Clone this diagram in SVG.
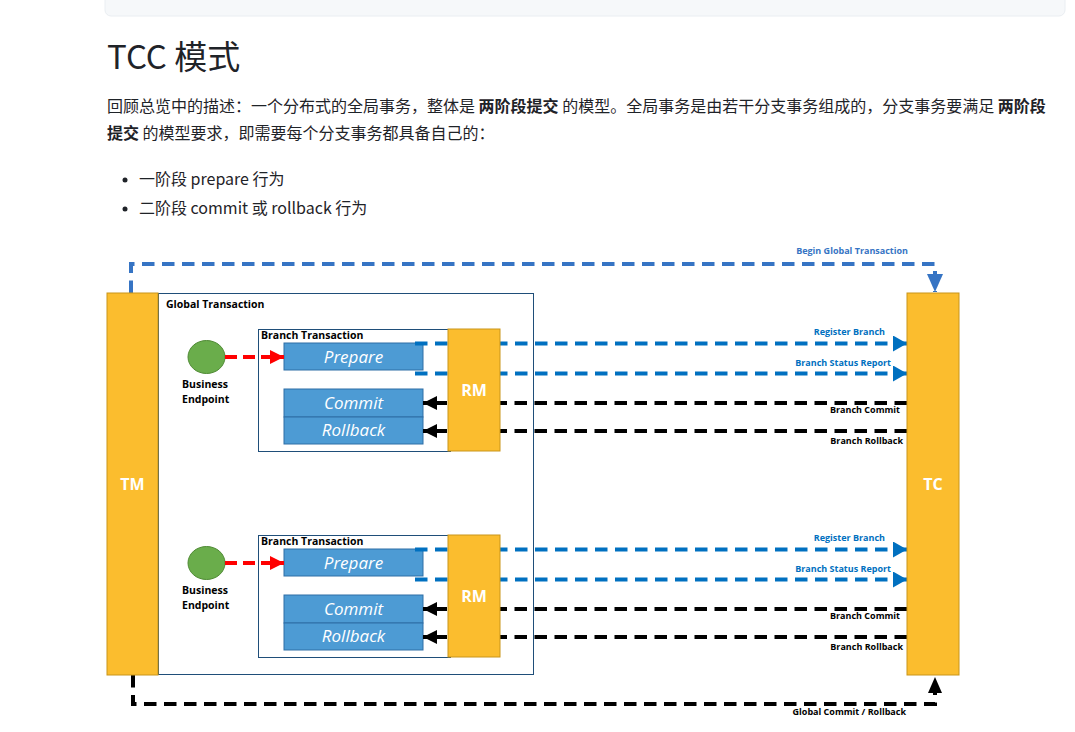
<svg xmlns="http://www.w3.org/2000/svg" width="1075" height="732" viewBox="0 0 1075 732">
<defs>
<style>
.page{font-family:"Noto Sans CJK SC","Noto Sans",sans-serif;fill:#1f2328}
.d{font-family:"Open Sans","Liberation Sans",sans-serif;font-weight:bold}
.lab{font-size:9px;fill:#000}
.blab{font-size:9px;fill:#0070c0}
.bar{fill:#fbbd2e;stroke:#c9951a;stroke-width:1}
.barT{font-family:"Open Sans","Liberation Sans",sans-serif;font-weight:bold;font-size:16px;fill:#fff}
.op{fill:#4d9bd4;stroke:#2e6ea6;stroke-width:1}
.opT{font-family:"Open Sans","Liberation Sans",sans-serif;font-style:italic;font-size:17px;fill:#fff}
.frame{fill:#fff;stroke:#1f4e79;stroke-width:1}
.bdash{fill:none;stroke:#0070c0;stroke-width:4;stroke-dasharray:12.5 7.5}
.tdash{fill:none;stroke:#3674c4;stroke-width:4;stroke-dasharray:12.5 7.5}
.kdash{fill:none;stroke:#000;stroke-width:4;stroke-dasharray:12.5 7.5}
</style>
<marker id="ab" markerUnits="userSpaceOnUse" markerWidth="16" markerHeight="16" refX="14" refY="8" orient="auto"><path d="M0,0 L14,8 L0,16 Z" fill="#0070c0"/></marker>
<marker id="ak" markerUnits="userSpaceOnUse" markerWidth="16" markerHeight="16" refX="14" refY="7" orient="auto"><path d="M0,0 L14,7 L0,14 Z" fill="#000"/></marker>
<marker id="ar" markerUnits="userSpaceOnUse" markerWidth="16" markerHeight="16" refX="14" refY="7" orient="auto"><path d="M0,0 L14,7 L0,14 Z" fill="#ff0000"/></marker>
<marker id="at" markerUnits="userSpaceOnUse" markerWidth="20" markerHeight="20" refX="18" refY="8" orient="auto"><path d="M0,0 L18,8 L0,16 Z" fill="#3674c4"/></marker>
<marker id="ag" markerUnits="userSpaceOnUse" markerWidth="20" markerHeight="20" refX="16" refY="7" orient="auto"><path d="M0,0 L16,7 L0,14 Z" fill="#000"/></marker>
</defs>
<rect width="1075" height="732" fill="#fff"/>
<g id="page-header">
<rect x="105" y="-10" width="960" height="26" rx="6" fill="#f6f8fa" stroke="#eaeef2"/>
<text class="page" x="107" y="69" font-size="33">TCC 模式</text>
<text class="page" x="107" y="112" font-size="16">回顾总览中的描述：一个分布式的全局事务，整体是 <tspan font-weight="bold">两阶段提交</tspan> 的模型。全局事务是由若干分支事务组成的，分支事务要满足 <tspan font-weight="bold">两阶段</tspan></text>
<text class="page" x="107" y="139" font-size="16"><tspan font-weight="bold">提交</tspan> 的模型要求，即需要每个分支事务都具备自己的：</text>
<circle cx="125" cy="180" r="2.5" fill="#1f2328"/>
<text class="page" x="139" y="185" font-size="16">一阶段 prepare 行为</text>
<circle cx="125" cy="209" r="2.5" fill="#1f2328"/>
<text class="page" x="139" y="214" font-size="16">二阶段 commit 或 rollback 行为</text>
</g>
<g id="global-frame">
<rect class="frame" x="158.5" y="293.5" width="375" height="381"/>
<text class="d" x="166" y="308" font-size="10.5">Global Transaction</text>
</g>
<g id="branch1">
<rect class="frame" x="258.5" y="329.5" width="192" height="122"/>
<text class="d" x="261" y="339" font-size="10.5">Branch Transaction</text>
</g>
<g id="branch2">
<rect class="frame" x="258.5" y="535.5" width="192" height="122"/>
<text class="d" x="261" y="545" font-size="10.5">Branch Transaction</text>
</g>
<g id="endpoint1">
<ellipse cx="206.5" cy="357" rx="18.5" ry="16.5" fill="#6aad4b" stroke="#4f8a34"/>
<text class="d" x="182" y="388" font-size="10.5">Business</text>
<text class="d" x="182" y="403" font-size="10.5">Endpoint</text>
</g>
<g id="endpoint2">
<ellipse cx="206.5" cy="563" rx="18.5" ry="16.5" fill="#6aad4b" stroke="#4f8a34"/>
<text class="d" x="182" y="594" font-size="10.5">Business</text>
<text class="d" x="182" y="609" font-size="10.5">Endpoint</text>
</g>
<g id="prepare1"><rect class="op" x="284" y="343" width="139" height="27"/><text class="opT" x="353.5" y="363" text-anchor="middle">Prepare</text></g>
<g id="commit1"><rect class="op" x="284" y="389" width="139" height="28"/><text class="opT" x="353.5" y="409" text-anchor="middle">Commit</text></g>
<g id="rollback1"><rect class="op" x="284" y="417" width="139" height="27"/><text class="opT" x="353.5" y="436" text-anchor="middle">Rollback</text></g>
<g id="prepare2"><rect class="op" x="284" y="549" width="139" height="27"/><text class="opT" x="353.5" y="569" text-anchor="middle">Prepare</text></g>
<g id="commit2"><rect class="op" x="284" y="595" width="139" height="28"/><text class="opT" x="353.5" y="615" text-anchor="middle">Commit</text></g>
<g id="rollback2"><rect class="op" x="284" y="623" width="139" height="27"/><text class="opT" x="353.5" y="642" text-anchor="middle">Rollback</text></g>
<g id="connectors">
<path class="tdash" d="M131,293 V264 H935 V292" marker-end="url(#at)"/>
<path class="kdash" d="M133,675 V704 H935 V677" marker-end="url(#ag)"/>
<path d="M225,357 H284" fill="none" stroke="#ff0000" stroke-width="4" stroke-dasharray="12 6" marker-end="url(#ar)"/>
<path d="M225,563 H284" fill="none" stroke="#ff0000" stroke-width="4" stroke-dasharray="12 6" marker-end="url(#ar)"/>
<path class="bdash" d="M415,343.5 H907" marker-end="url(#ab)"/>
<path class="bdash" d="M415,373.5 H907" marker-end="url(#ab)"/>
<path class="kdash" d="M907,403 H423" marker-end="url(#ak)"/>
<path class="kdash" d="M907,431 H423" marker-end="url(#ak)"/>
<path class="bdash" d="M415,549.5 H907" marker-end="url(#ab)"/>
<path class="bdash" d="M415,579.5 H907" marker-end="url(#ab)"/>
<path class="kdash" d="M907,609 H423" marker-end="url(#ak)"/>
<path class="kdash" d="M907,637 H423" marker-end="url(#ak)"/>
</g>
<g id="labels">
<text class="d blab" x="908" y="254" text-anchor="end" style="fill:#3674c4">Begin Global Transaction</text>
<text class="d blab" x="885" y="335" text-anchor="end">Register Branch</text>
<text class="d blab" x="891" y="366" text-anchor="end">Branch Status Report</text>
<text class="d lab" x="900" y="413" text-anchor="end">Branch Commit</text>
<text class="d lab" x="903" y="444" text-anchor="end">Branch Rollback</text>
<text class="d blab" x="885" y="541" text-anchor="end">Register Branch</text>
<text class="d blab" x="891" y="572" text-anchor="end">Branch Status Report</text>
<text class="d lab" x="900" y="619" text-anchor="end">Branch Commit</text>
<text class="d lab" x="903" y="650" text-anchor="end">Branch Rollback</text>
<text class="d lab" x="906" y="715" text-anchor="end">Global Commit / Rollback</text>
</g>
<g id="rm1"><rect class="bar" x="448" y="329" width="52" height="122"/><text class="barT" x="474" y="396" text-anchor="middle">RM</text></g>
<g id="rm2"><rect class="bar" x="448" y="535" width="52" height="122"/><text class="barT" x="474" y="602" text-anchor="middle">RM</text></g>
<g id="tm"><rect class="bar" x="107" y="293" width="51" height="382"/><text class="barT" x="132.5" y="490" text-anchor="middle">TM</text></g>
<g id="tc"><rect class="bar" x="907" y="293" width="52" height="382"/><text class="barT" x="933" y="490" text-anchor="middle">TC</text></g>
</svg>
